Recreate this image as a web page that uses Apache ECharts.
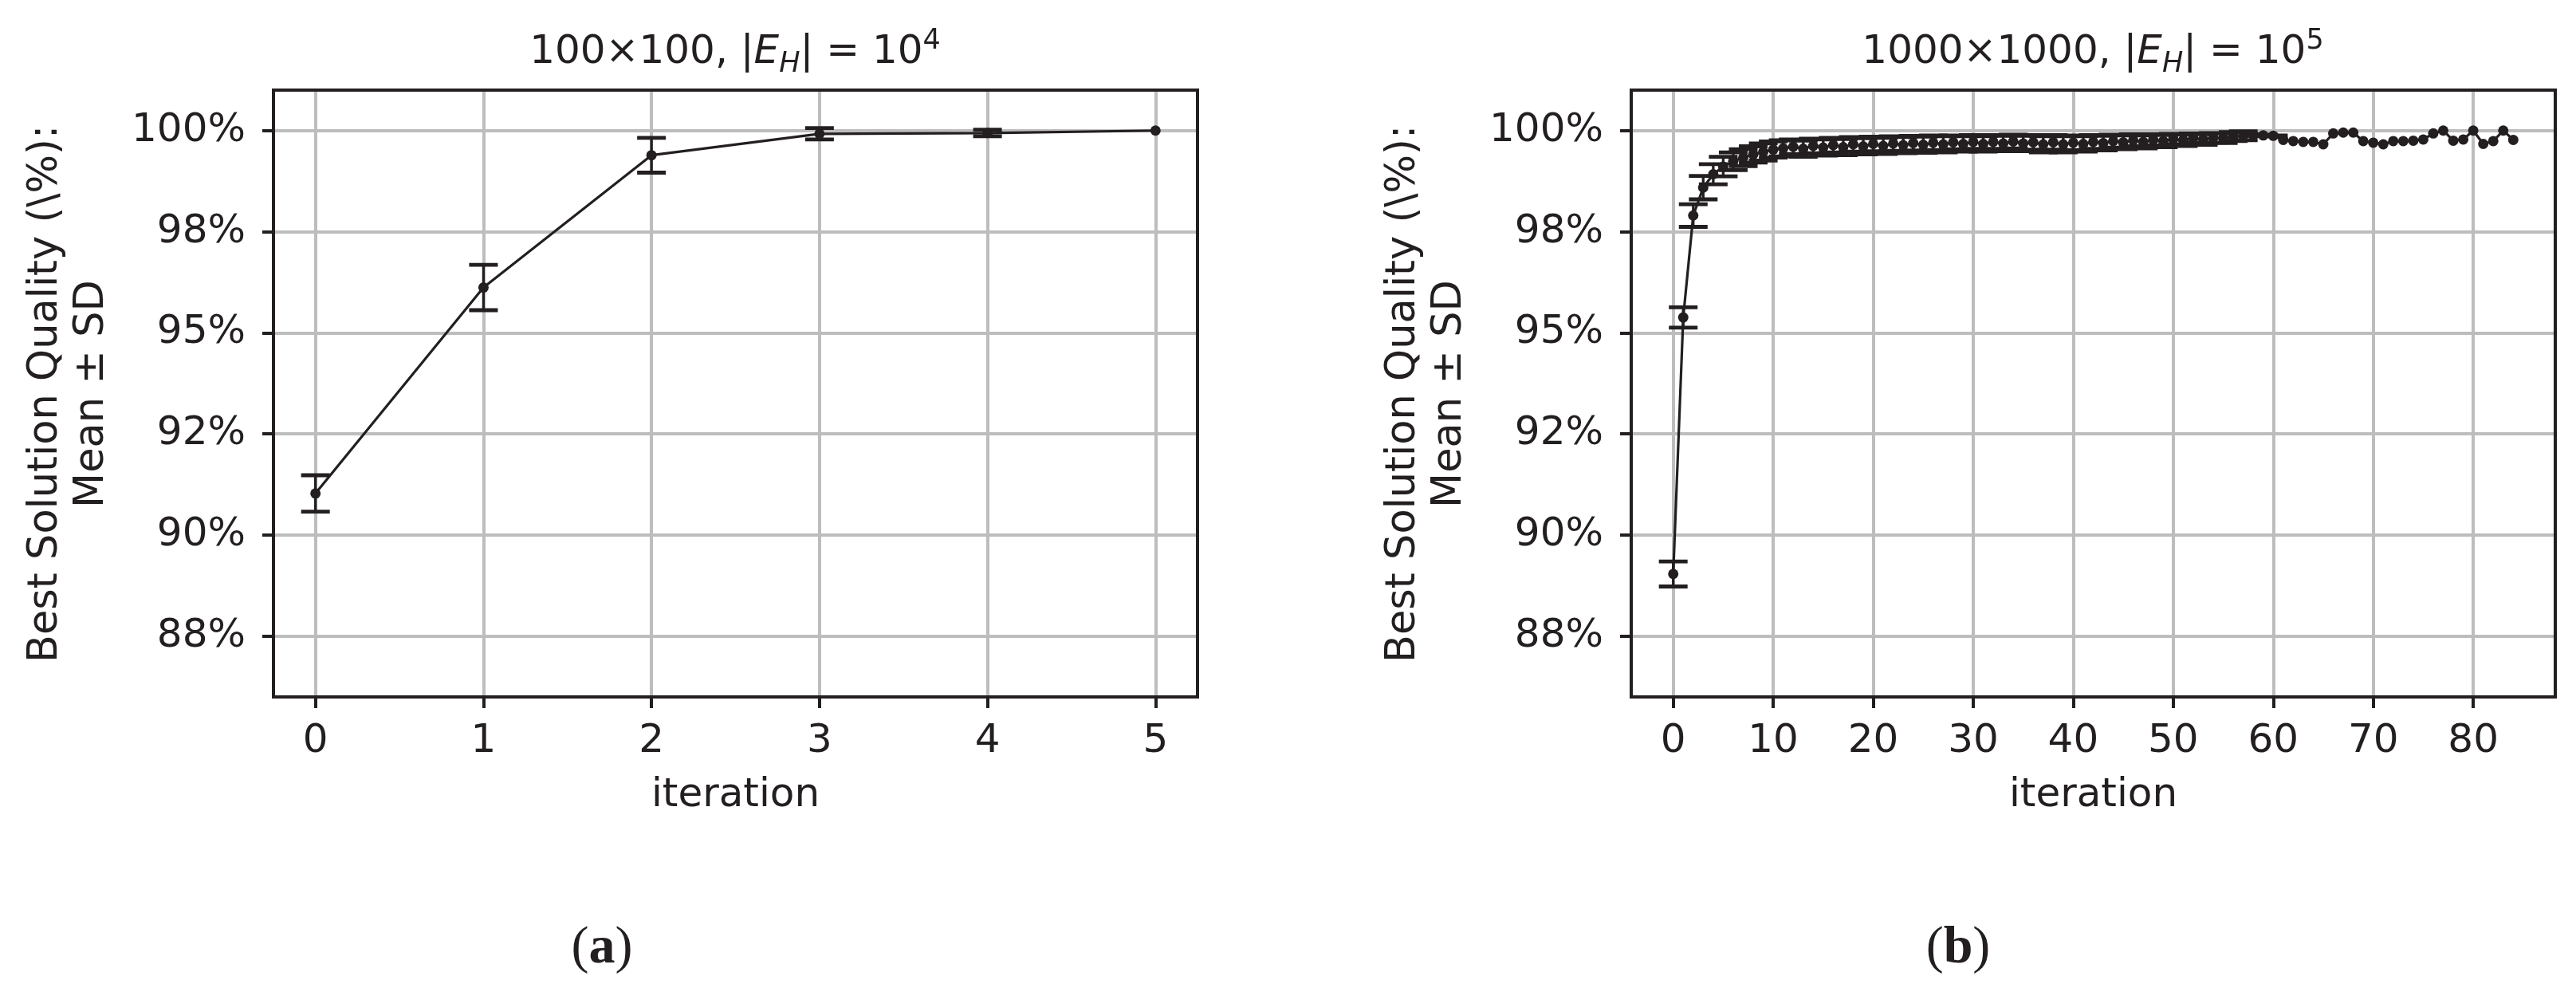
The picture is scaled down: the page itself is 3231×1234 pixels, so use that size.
<!DOCTYPE html>
<html><head><meta charset="utf-8">
<script src="https://cdn.jsdelivr.net/npm/echarts@6/dist/echarts.min.js"></script>
<style>html,body{margin:0;padding:0;background:#fff}#c{width:3231px;height:1234px}</style>
</head><body><div id="c"></div>
<script>
// ---- data ----
const yTickValues = [87.5, 90, 92.5, 95, 97.5, 100];
const yTickLabels = ['88%', '90%', '92%', '95%', '98%', '100%'];

const leftXTicks = [0, 1, 2, 3, 4, 5];
const leftIterations = [0, 1, 2, 3, 4, 5];
const leftMean = [91.03, 96.12, 99.39, 99.92, 99.94, 100.0];
const leftSD   = [0.45, 0.56, 0.43, 0.14, 0.08, null];

const rightXTicks = [0, 10, 20, 30, 40, 50, 60, 70, 80];
const rightIterations = [
  0,1,2,3,4,5,6,7,8,9,10,11,12,13,14,15,16,17,18,19,20,
  21,22,23,24,25,26,27,28,29,30,31,32,33,34,35,36,37,38,39,40,
  41,42,43,44,45,46,47,48,49,50,51,52,53,54,55,56,57,58,59,60,
  61,62,63,64,65,66,67,68,69,70,71,72,73,74,75,76,77,78,79,80,
  81,82,83,84
];
const rightMean = [
  89.04, 95.38, 97.90, 98.59, 98.92, 99.11, 99.24, 99.33, 99.41, 99.47, 99.53,
  99.56, 99.60, 99.55, 99.62, 99.58, 99.64, 99.59, 99.66, 99.61, 99.67,
  99.62, 99.68, 99.64, 99.69, 99.65, 99.70, 99.66, 99.71, 99.67, 99.72,
  99.67, 99.72, 99.68, 99.73, 99.68, 99.71, 99.66, 99.71, 99.66, 99.70,
  99.67, 99.72, 99.69, 99.74, 99.71, 99.76, 99.72, 99.77, 99.74, 99.79,
  99.76, 99.81, 99.78, 99.82, 99.81, 99.85, 99.87, 99.89, 99.88, 99.87,
  99.77, 99.74, 99.72, 99.72, 99.66, 99.93, 99.95, 99.95, 99.74, 99.70,
  99.66, 99.74, 99.74, 99.75, 99.78, 99.93, 100.00, 99.75, 99.78, 100.00,
  99.67, 99.74, 100.00, 99.77
];
const rightSD = [
  0.31, 0.25, 0.28, 0.29, 0.25, 0.24, 0.22, 0.21, 0.20, 0.21, 0.20,
  0.20, 0.18, 0.20, 0.18, 0.20, 0.18, 0.20, 0.18, 0.20, 0.18,
  0.20, 0.18, 0.20, 0.18, 0.20, 0.18, 0.20, 0.17, 0.19, 0.17,
  0.19, 0.17, 0.19, 0.17, 0.19, 0.18, 0.20, 0.18, 0.20, 0.18,
  0.19, 0.17, 0.18, 0.16, 0.17, 0.15, 0.16, 0.14, 0.15, 0.13,
  0.14, 0.12, 0.13, 0.12, 0.12, 0.11, 0.11, 0.02, 0.02, 0.01,
  null, null, null, null, null, null, null, null, null, null,
  null, null, null, null, null, null, null, null, null, null,
  null, null, null, null
];

const titleA = '{n|100×100, |}{i|E}{s|H}{n|| = 10}{p|4}';
const titleB = '{n|1000×1000, |}{i|E}{s|H}{n|| = 10}{p|5}';
const yName = 'Best Solution Quality (\\%):\nMean ± SD';
const xName = 'iteration';

// ---- styling ----
const INK = '#231f20';
const GRIDC = '#bdbdbd';
const FONT = 'DejaVu Sans';
const FS = 50;

function pts(xs, ms) { return xs.map((x, i) => [x, ms[i]]); }
function errs(xs, ms, sds) {
  const out = [];
  xs.forEach((x, i) => { if (sds[i] != null) out.push([x, ms[i] - sds[i], ms[i] + sds[i]]); });
  return out;
}
function errRender(params, api) {
  const x = api.value(0);
  const lo = api.coord([x, api.value(1)]);
  const hi = api.coord([x, api.value(2)]);
  const cap = 18;
  const vs = { stroke: INK, lineWidth: 3.3 };
  const cs = { stroke: INK, lineWidth: 4.8 };
  return { type: 'group', children: [
    { type: 'line', shape: { x1: lo[0], y1: lo[1], x2: hi[0], y2: hi[1] }, style: vs },
    { type: 'line', shape: { x1: lo[0] - cap, y1: lo[1], x2: lo[0] + cap, y2: lo[1] }, style: cs },
    { type: 'line', shape: { x1: hi[0] - cap, y1: hi[1], x2: hi[0] + cap, y2: hi[1] }, style: cs }
  ]};
}
function yLabel(v) {
  const k = yTickValues.findIndex(t => Math.abs(t - v) < 1e-6);
  return k >= 0 ? yTickLabels[k] : '';
}
function xAxisCfg(idx, min, max, ticks) {
  return {
    type: 'value', gridIndex: idx, min: min, max: max,
    name: xName, nameLocation: 'middle', nameGap: 99,
    nameTextStyle: { fontFamily: FONT, fontSize: FS, color: INK, lineHeight: 50 },
    axisLine: { show: false, onZero: false },
    axisTick: { show: true, length: 14, customValues: ticks, lineStyle: { color: INK, width: 4 } },
    axisLabel: { customValues: ticks, margin: 31, fontFamily: FONT, fontSize: FS, color: INK, lineHeight: 50 },
    splitLine: { show: true, lineStyle: { color: GRIDC, width: 4 } }
  };
}
function yAxisCfg(idx) {
  return {
    type: 'value', gridIndex: idx, min: 86, max: 101,
    axisLine: { show: false, onZero: false },
    axisTick: { show: true, length: 14, customValues: yTickValues, lineStyle: { color: INK, width: 4 } },
    axisLabel: { customValues: yTickValues, formatter: yLabel, margin: 35, fontFamily: FONT, fontSize: FS, color: INK },
    splitLine: { show: true, lineStyle: { color: GRIDC, width: 4 } }
  };
}
const richTitle = {
  n: { fontFamily: FONT, fontSize: FS, fill: INK, lineHeight: 64 },
  i: { fontFamily: FONT, fontSize: FS, fontStyle: 'italic', fill: INK, lineHeight: 64 },
  s: { fontFamily: FONT, fontSize: 35, fontStyle: 'italic', fill: INK, lineHeight: 35, verticalAlign: 'bottom' },
  p: { fontFamily: FONT, fontSize: 35, fill: INK, lineHeight: 35, verticalAlign: 'top' }
};
const richCap = {
  p: { fontFamily: 'Liberation Serif', fontSize: 66, fill: INK },
  b: { fontFamily: 'Liberation Serif', fontSize: 66, fontWeight: 'bold', fill: INK }
};
function rtext(x, y, text, rich) {
  return { type: 'text', x: x, y: y, z: 10,
    style: { text: text, rich: rich, align: 'center', verticalAlign: 'middle', fill: INK, fontFamily: FONT, fontSize: FS } };
}
function ytext(x, y) {
  return { type: 'text', x: x, y: y, rotation: Math.PI / 2, z: 10,
    style: { text: yName, align: 'center', verticalAlign: 'middle', fill: INK, fontFamily: FONT, fontSize: 51, lineHeight: 58 } };
}

const chart = echarts.init(document.getElementById('c'), null, { renderer: 'canvas' });
chart.setOption({
  animation: false,
  backgroundColor: '#ffffff',
  grid: [
    { left: 343, top: 113, width: 1159, height: 761, show: true, borderColor: INK, borderWidth: 4, z: 5, backgroundColor: 'transparent' },
    { left: 2046, top: 113, width: 1159, height: 761, show: true, borderColor: INK, borderWidth: 4, z: 5, backgroundColor: 'transparent' }
  ],
  xAxis: [ xAxisCfg(0, -0.25, 5.25, leftXTicks), xAxisCfg(1, -4.2, 88.2, rightXTicks) ],
  yAxis: [ yAxisCfg(0), yAxisCfg(1) ],
  graphic: [
    rtext(922, 66, titleA, richTitle),
    rtext(2625, 66, titleB, richTitle),
    ytext(87, 494),
    ytext(1790, 494),
    rtext(755, 1190, '{p|(}{b|a}{p|)}', richCap),
    rtext(2456, 1190, '{p|(}{b|b}{p|)}', richCap)
  ],
  series: [
    { type: 'custom', xAxisIndex: 0, yAxisIndex: 0, renderItem: errRender, encode: { x: 0, y: [1, 2] },
      data: errs(leftIterations, leftMean, leftSD), z: 3, clip: false },
    { type: 'line', xAxisIndex: 0, yAxisIndex: 0, data: pts(leftIterations, leftMean), symbol: 'circle', symbolSize: 13,
      lineStyle: { color: INK, width: 3.2 }, itemStyle: { color: INK }, z: 4 },
    { type: 'custom', xAxisIndex: 1, yAxisIndex: 1, renderItem: errRender, encode: { x: 0, y: [1, 2] },
      data: errs(rightIterations, rightMean, rightSD), z: 3, clip: false },
    { type: 'line', xAxisIndex: 1, yAxisIndex: 1, data: pts(rightIterations, rightMean), symbol: 'circle', symbolSize: 13,
      lineStyle: { color: INK, width: 3.2 }, itemStyle: { color: INK }, z: 4 }
  ]
});
</script></body></html>
